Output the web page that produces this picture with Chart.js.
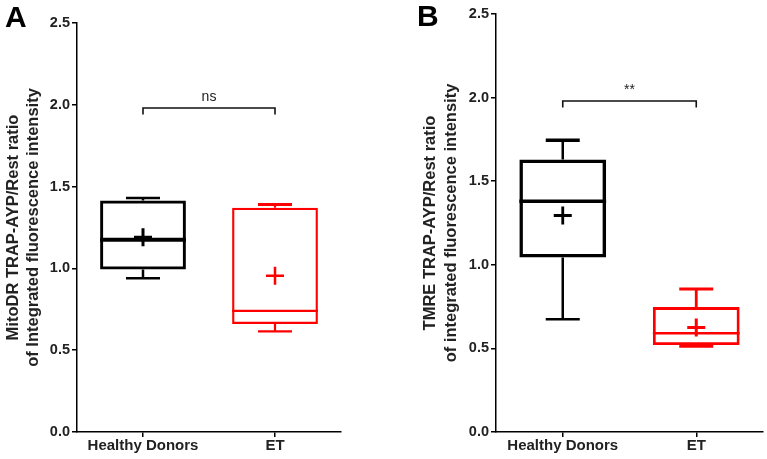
<!DOCTYPE html>
<html>
<head>
<meta charset="utf-8">
<script src="https://cdn.jsdelivr.net/npm/chart.js@4"></script>
<style>
  html,body{margin:0;padding:0;background:#fff;}
  #wrap{position:relative;width:767px;height:459px;overflow:hidden;background:#fff;}
  .panel{position:absolute;top:0;height:459px;}
  .letter{position:absolute;font-family:"Liberation Sans",Arial,sans-serif;font-weight:bold;font-size:30px;color:#000;line-height:1;}
</style>
</head>
<body>
<div id="wrap">
  <div class="panel" style="left:0;width:383px;"><canvas id="cA"></canvas></div>
  <div class="panel" style="left:383px;width:384px;"><canvas id="cB"></canvas></div>
  <div class="letter" style="left:5px;top:2px;">A</div>
  <div class="letter" style="left:417px;top:1px;">B</div>
</div>
<script>
// ---- data ----
const categories = ['Healthy Donors', 'ET'];
const yTicks = [0, 0.5, 1.0, 1.5, 2.0, 2.5];

// Panel A: MitoDR
const aMin    = [0.94, 0.615];
const aQ1     = [0.993, 0.66];
const aMedian = [1.175, 0.74];
const aQ3     = [1.415, 1.37];
const aMax    = [1.43, 1.39];
const aMean   = [1.19, 0.955];
const aSigLabel = 'ns';
const aSigY     = 1.98;
const aTitle = ['MitoDR TRAP-AYP/Rest ratio', 'of Integrated fluorescence intensity'];

// Panel B: TMRE
const bMin    = [0.675, 0.515];
const bQ1     = [1.043, 0.52];
const bMedian = [1.38, 0.59];
const bQ3     = [1.63, 0.747];
const bMax    = [1.745, 0.855];
const bMean   = [1.295, 0.625];
const bSigLabel = '**';
const bSigY     = 1.98;
const bTitle = ['TMRE TRAP-AYP/Rest ratio', 'of integrated fluorescence intensity'];

const boxColors = ['#000000', '#ff0000'];
const FONT = '"Liberation Sans", Arial, sans-serif';

const boxPlugin = {
  id: 'boxExtras',
  afterDatasetsDraw(chart) {
    const o = chart.options.plugins.boxExtras;
    const ctx = chart.ctx;
    const x = chart.scales.x, y = chart.scales.y;
    const meta = chart.getDatasetMeta(0);
    ctx.save();
    ctx.lineCap = 'butt';
    for (let i = 0; i < o.median.length; i++) {
      const bar = meta.data[i];
      const cx = x.getPixelForValue(i);
      const half = bar.width / 2;
      const col = boxColors[i];
      const st = o.styles[i];
      ctx.strokeStyle = col;
      // median line
      ctx.lineWidth = st.median;
      const ym = y.getPixelForValue(o.median[i]);
      ctx.beginPath(); ctx.moveTo(cx - half, ym); ctx.lineTo(cx + half, ym); ctx.stroke();
      // whiskers
      ctx.lineWidth = st.whisker;
      const yq3 = y.getPixelForValue(o.q3[i]);
      const yq1 = y.getPixelForValue(o.q1[i]);
      const yMax = y.getPixelForValue(o.max[i]);
      const yMin = y.getPixelForValue(o.min[i]);
      ctx.beginPath();
      ctx.moveTo(cx, yq3); ctx.lineTo(cx, yMax);
      ctx.moveTo(cx, yq1); ctx.lineTo(cx, yMin);
      ctx.stroke();
      const cap = 17;
      ctx.lineWidth = st.capTop;
      ctx.beginPath(); ctx.moveTo(cx - cap, yMax); ctx.lineTo(cx + cap, yMax); ctx.stroke();
      ctx.lineWidth = st.capBot;
      ctx.beginPath(); ctx.moveTo(cx - cap, yMin); ctx.lineTo(cx + cap, yMin); ctx.stroke();
      // mean plus
      const yMean = y.getPixelForValue(o.mean[i]);
      const p = 9;
      ctx.lineWidth = st.plus;
      ctx.beginPath();
      ctx.moveTo(cx - p, yMean); ctx.lineTo(cx + p, yMean);
      ctx.moveTo(cx, yMean - p); ctx.lineTo(cx, yMean + p);
      ctx.stroke();
    }
    // significance bracket
    const x0 = x.getPixelForValue(0), x1 = x.getPixelForValue(1);
    const yb = y.getPixelForValue(o.sigY);
    ctx.strokeStyle = '#111';
    ctx.lineWidth = 1.6;
    ctx.beginPath();
    ctx.moveTo(x0, yb + 6.5); ctx.lineTo(x0, yb); ctx.lineTo(x1, yb); ctx.lineTo(x1, yb + 6.5);
    ctx.stroke();
    ctx.fillStyle = '#222';
    ctx.font = '14px ' + FONT;
    ctx.textAlign = 'center';
    ctx.textBaseline = 'alphabetic';
    ctx.fillText(o.sigLabel, (x0 + x1) / 2, yb - 7);
    ctx.restore();
  }
};

function makeChart(id, cfg) {
  return new Chart(document.getElementById(id), {
    type: 'bar',
    data: {
      labels: categories,
      datasets: [{
        data: cfg.q1.map((v, i) => [v, cfg.q3[i]]),
        backgroundColor: 'rgba(0,0,0,0)',
        borderColor: boxColors,
        borderWidth: cfg.boxWidths,
        borderSkipped: false,
        barPercentage: 0.65,
        categoryPercentage: 1.0
      }]
    },
    options: {
      responsive: false,
      animation: false,
      events: [],
      layout: { padding: { left: 0, right: cfg.padRight, top: cfg.top, bottom: 0 } },
      plugins: {
        legend: { display: false },
        tooltip: { enabled: false },
        boxExtras: {
          q1: cfg.q1, q3: cfg.q3, median: cfg.median, min: cfg.min, max: cfg.max, mean: cfg.mean,
          sigY: cfg.sigY, sigLabel: cfg.sigLabel, styles: cfg.styles
        }
      },
      scales: {
        x: {
          offset: true,
          grid: { display: true, drawOnChartArea: false, drawTicks: true, tickLength: 5, offset: false, color: '#000', lineWidth: 1.5 },
          border: { display: true, color: '#000', width: 1.5 },
          ticks: { color: '#222', font: { family: FONT, size: 15, weight: 'bold' }, padding: 0, maxRotation: 0 },
          afterFit(s) { s.height = 27; }
        },
        y: {
          min: 0, max: 2.5,
          afterBuildTicks(s) { s.ticks = yTicks.map(v => ({ value: v })); },
          grid: { display: true, drawOnChartArea: false, drawTicks: true, tickLength: 5, color: '#000', lineWidth: 1.5 },
          border: { display: true, color: '#000', width: 1.5 },
          ticks: { color: '#222', font: { family: FONT, size: 14.5, weight: 'bold' }, padding: 2, callback: v => Number(v).toFixed(1) },
          title: { display: true, text: cfg.title, color: '#222', font: { family: FONT, size: 16.5, weight: 'bold', lineHeight: cfg.titleLH }, padding: { top: cfg.titlePad, bottom: 0 } },
          afterFit(s) { s.width = cfg.yWidth; }
        }
      }
    },
    plugins: [boxPlugin]
  });
}

const cA = document.getElementById('cA'); cA.width = 383; cA.height = 459;
const cB = document.getElementById('cB'); cB.width = 384; cB.height = 459;

makeChart('cA', {
  q1: aQ1, q3: aQ3, median: aMedian, min: aMin, max: aMax, mean: aMean,
  sigY: aSigY, sigLabel: aSigLabel, title: aTitle,
  boxWidths: [3, 2.2], padRight: 42, top: 23, yWidth: 77, titlePad: 3, titleLH: 1.22,
  styles: [
    { median: 4, whisker: 2.5, capTop: 2.5, capBot: 2.5, plus: 3 },
    { median: 2.2, whisker: 2.2, capTop: 3, capBot: 2.2, plus: 2.5 }
  ]
});

makeChart('cB', {
  q1: bQ1, q3: bQ3, median: bMedian, min: bMin, max: bMax, mean: bMean,
  sigY: bSigY, sigLabel: bSigLabel, title: bTitle,
  boxWidths: [3.5, 2.8], padRight: 4, top: 14, yWidth: 113, titlePad: 37, titleLH: 1.27,
  styles: [
    { median: 3.5, whisker: 2.5, capTop: 3.5, capBot: 2.5, plus: 2.8 },
    { median: 2.5, whisker: 2.8, capTop: 3, capBot: 3.5, plus: 3 }
  ]
});
</script>
</body>
</html>
